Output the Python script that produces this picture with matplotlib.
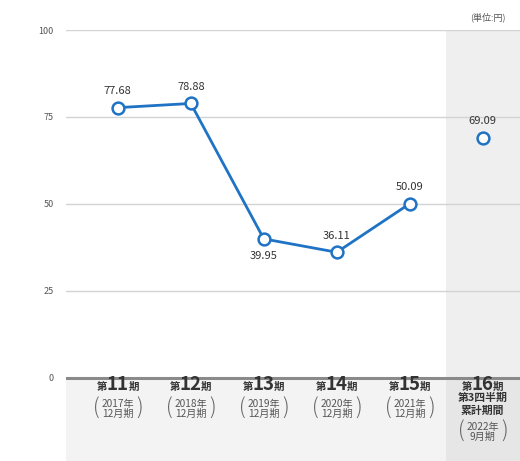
import numpy as np
import matplotlib.pyplot as plt

plt.rcParams['font.family'] = ['Noto Sans CJK JP', 'DejaVu Sans']

# data
periods = ['11', '12', '13', '14', '15', '16']
years = ['2017年\n12月期', '2018年\n12月期', '2019年\n12月期',
         '2020年\n12月期', '2021年\n12月期', '2022年\n9月期']
values = [77.68, 78.88, 39.95, 36.11, 50.09, 69.09]
label_below = [False, False, True, False, False, False]
yticks = [0, 25, 50, 75, 100]

blue = '#1f73c4'

fig = plt.figure(figsize=(5.2, 4.61), dpi=100)
ax = fig.add_axes([66/520, 0, 1 - 66/520, 431/461])

x = np.arange(len(values))
ax.set_xlim(-0.71, 5.51)
ax.set_ylim(-23.9, 100)

# background panels
ax.axvspan(4.5, 5.51, ymin=0, ymax=1, color='#efefef', zorder=0, lw=0)
ax.axhspan(-23.9, -0.4, xmin=0, xmax=(4.5 + 0.71) / 6.22, color='#f3f3f3', zorder=0, lw=0)
ax.axhspan(-23.9, -0.4, xmin=(4.5 + 0.71) / 6.22, xmax=1, color='#e6e6e6', zorder=0, lw=0)

# grid
for t in yticks[1:]:
    ax.axhline(t, color='#d3d3d3', lw=1, zorder=1)
ax.axhline(0, color='#8a8a8a', lw=2.2, zorder=2)

for s in ax.spines.values():
    s.set_visible(False)
ax.set_xticks([])
ax.set_yticks(yticks)
ax.set_yticklabels([str(t) for t in yticks], fontsize=6.5, color='#555555')
ax.tick_params(axis='y', length=0, pad=9)

# line + markers
ax.plot(x[:5], values[:5], color=blue, lw=2, zorder=3)
ax.plot(x, values, 'o', ms=8.5, mfc='white', mec=blue, mew=1.8, zorder=4)

for xi, v, below in zip(x, values, label_below):
    ax.annotate(f'{v:.2f}', (xi, v), xytext=(0, -12 if below else 12),
                textcoords='offset points', ha='center', va='center',
                fontsize=8, color='#333333')

# category labels
def cat_head(xi, num, y):
    ax.annotate(num, (xi, y), ha='center', va='center', fontsize=13.5,
                fontweight='bold', color='#333333', annotation_clip=False)
    ax.annotate('第', (xi, y), xytext=(-7.5, -1.5), textcoords='offset points',
                ha='right', va='center', fontsize=7.5, fontweight='bold',
                color='#333333', annotation_clip=False)
    ax.annotate('期', (xi, y), xytext=(7.5, -1.5), textcoords='offset points',
                ha='left', va='center', fontsize=7.5, fontweight='bold',
                color='#333333', annotation_clip=False)

def year_label(xi, txt, y):
    ax.text(xi, y, txt, ha='center', va='center', fontsize=7.3,
            color='#555555', linespacing=0.95)
    ax.annotate('(', (xi, y), xytext=(-15.5, 0), textcoords='offset points',
                ha='center', va='center', fontsize=15, color='#666666',
                fontweight='light')
    ax.annotate(')', (xi, y), xytext=(15.5, 0), textcoords='offset points',
                ha='center', va='center', fontsize=15, color='#666666',
                fontweight='light')

def py(pix):
    # pixel row -> data y
    return (378 - pix) / 3.48

for i in range(5):
    cat_head(x[i], periods[i], py(385))
    year_label(x[i], years[i], py(409))

cat_head(x[5], periods[5], py(385))
ax.text(x[5], py(398.5), '第3四半期', ha='center', va='center', fontsize=7.8,
        fontweight='bold', color='#333333')
ax.text(x[5], py(411.5), '累計期間', ha='center', va='center', fontsize=7.8,
        fontweight='bold', color='#333333')
year_label(x[5], years[5], py(432))

fig.text(488/520, 1 - 17/461, '(単位:円)', ha='center', va='center',
         fontsize=6.5, color='#555555')

fig.savefig('out.png', dpi=100)
